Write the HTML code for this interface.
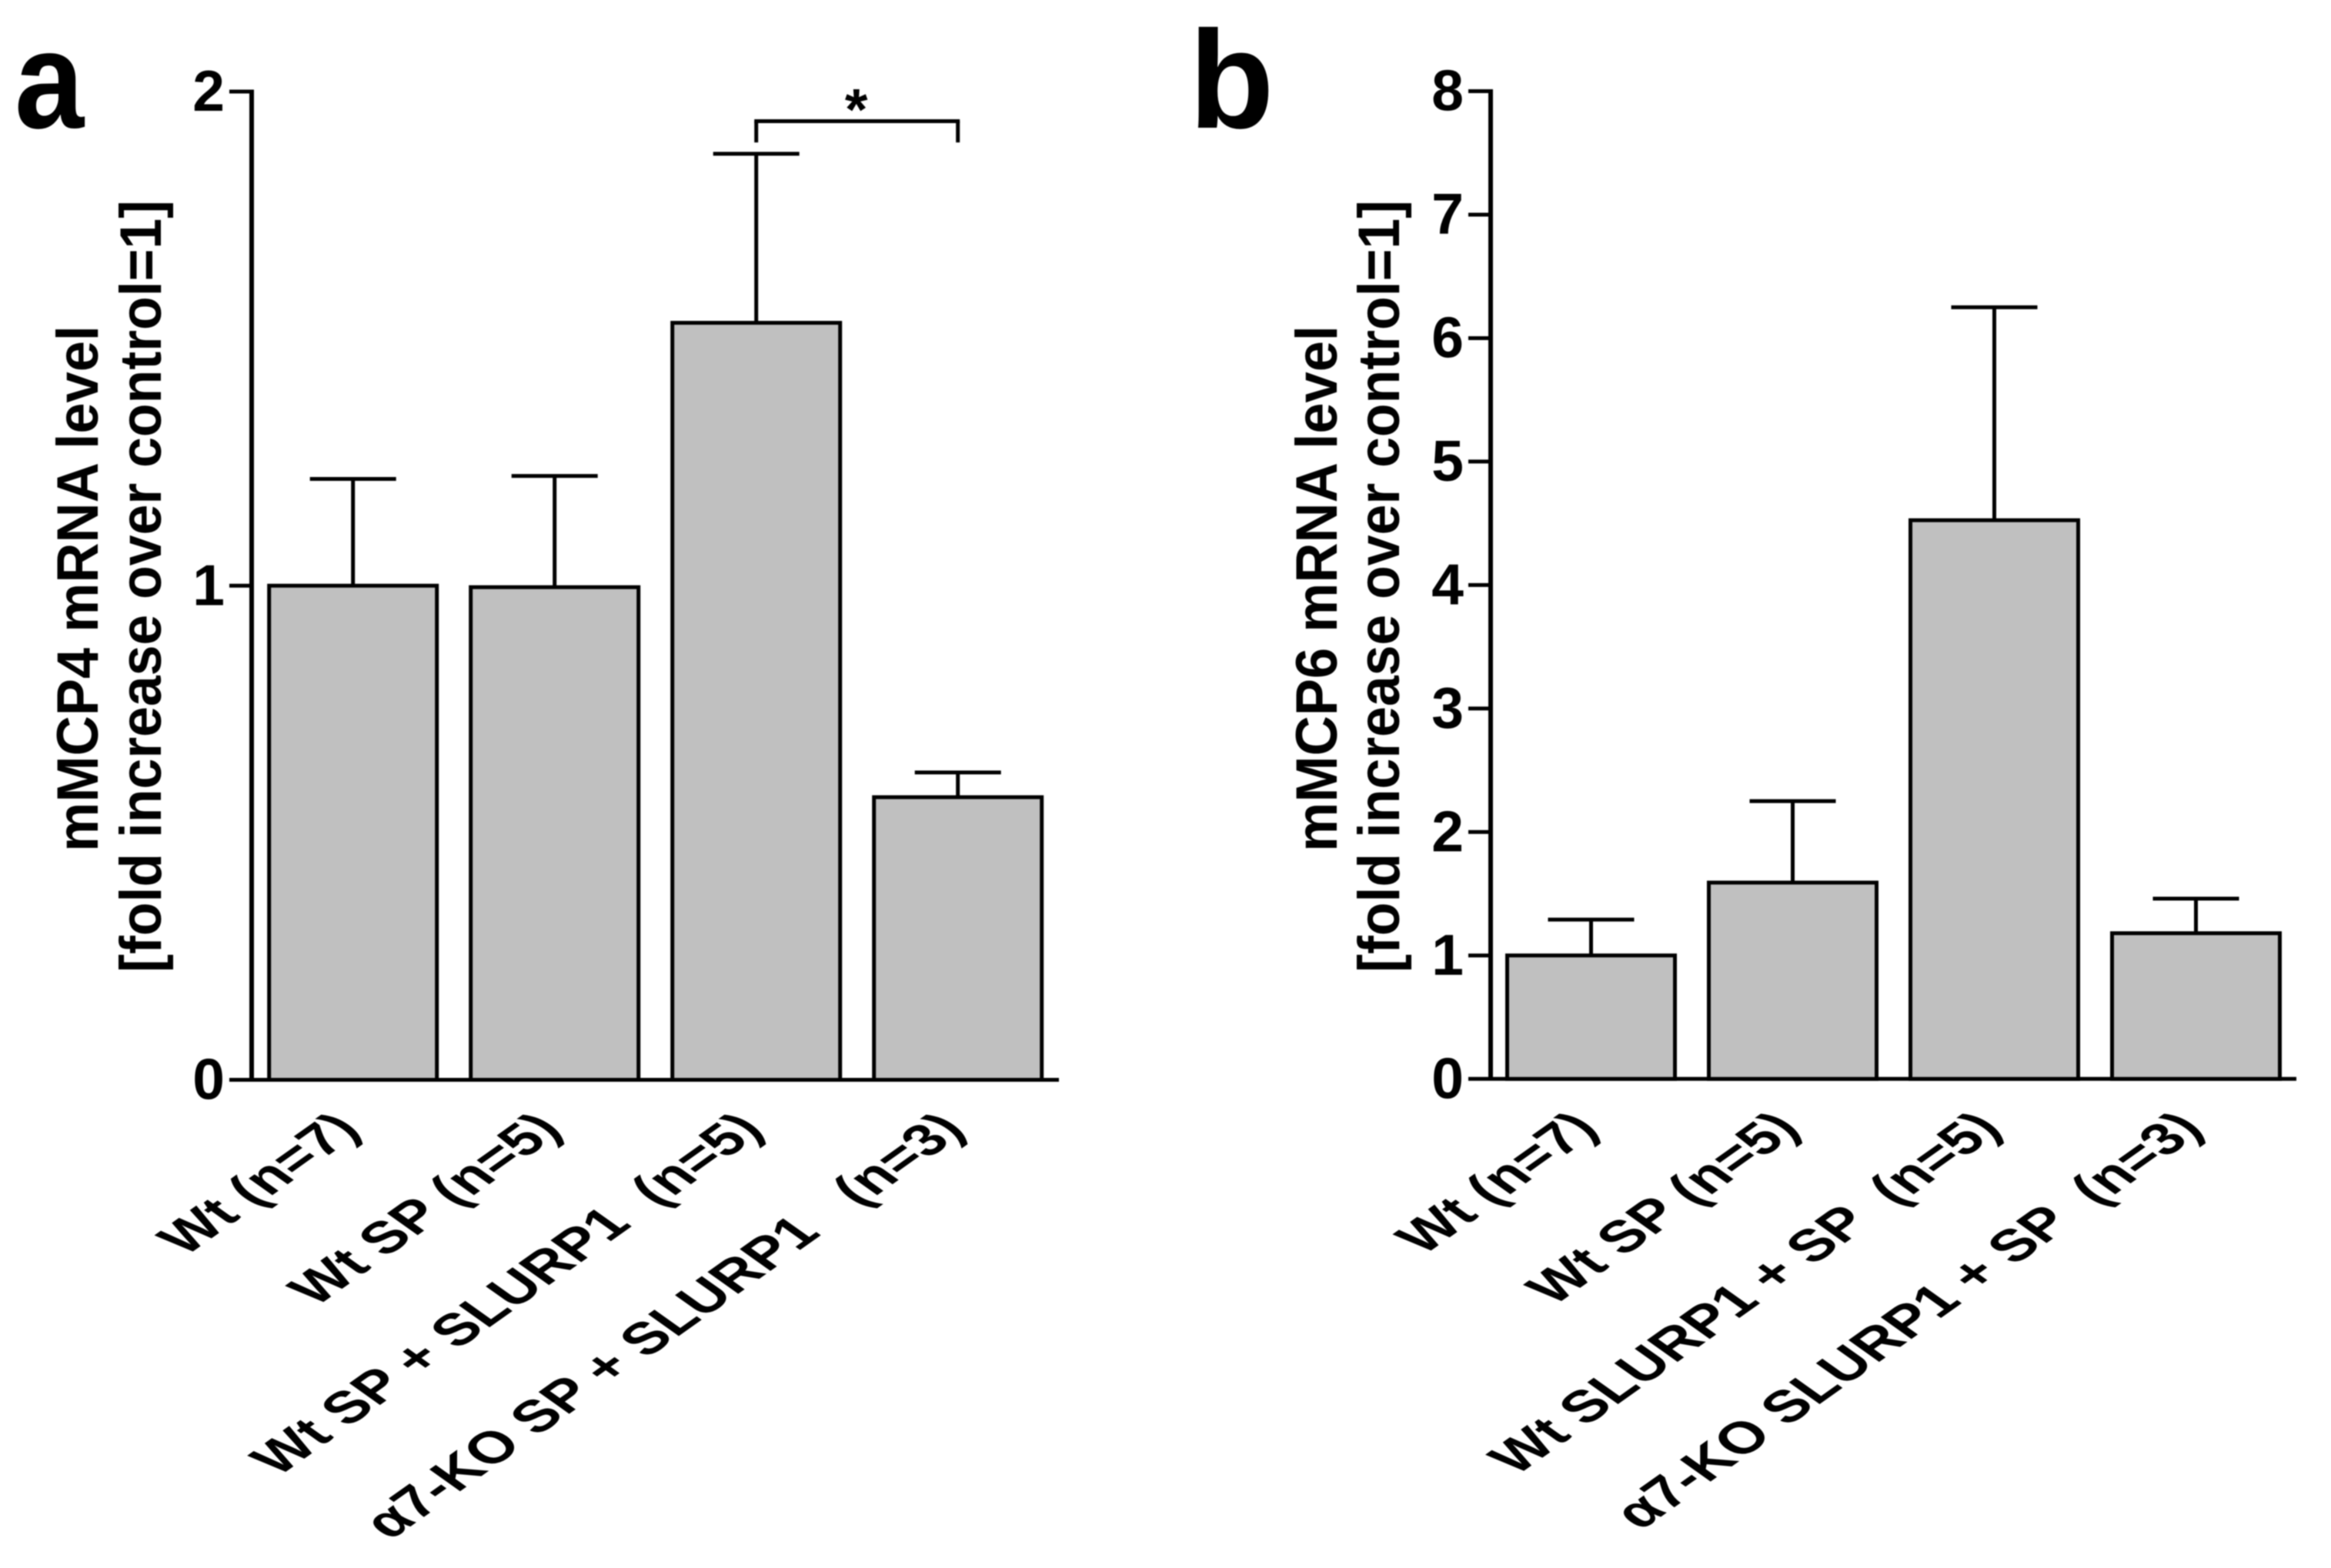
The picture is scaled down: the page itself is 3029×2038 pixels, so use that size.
<!DOCTYPE html>
<html lang="en">
<head>
<meta charset="utf-8">
<title>mMCP4 and mMCP6 mRNA levels</title>
<style>
html,body{margin:0;padding:0;background:#fff;}
svg{display:block;filter:blur(0.7px);}
text{font-family:"Liberation Sans",Arial,sans-serif;font-weight:bold;fill:#000;}
</style>
</head>
<body>
<svg id="figure" xmlns="http://www.w3.org/2000/svg" width="3029" height="2038" viewBox="0 0 3029 2038">
  <rect x="0" y="0" width="3029" height="2038" fill="#ffffff"/>
  <text transform="translate(19,166) scale(0.9,1)" font-size="180">a</text>
  <text x="1545" y="166" font-size="181">b</text>
  <text transform="translate(127,765) rotate(-90)" text-anchor="middle" font-size="76" textLength="684" lengthAdjust="spacingAndGlyphs">mMCP4 mRNA level</text>
  <text transform="translate(209,762) rotate(-90)" text-anchor="middle" font-size="76" textLength="1004" lengthAdjust="spacingAndGlyphs">[fold increase over control=1]</text>
  <text transform="translate(1737,765) rotate(-90)" text-anchor="middle" font-size="76" textLength="684" lengthAdjust="spacingAndGlyphs">mMCP6 mRNA level</text>
  <text transform="translate(1818,762) rotate(-90)" text-anchor="middle" font-size="76" textLength="1004" lengthAdjust="spacingAndGlyphs">[fold increase over control=1]</text>
  <g id="panel-a"></g>
  <g id="panel-b"></g>
</svg>
<script>
const aCategories = ['Wt (n=7)', 'Wt SP (n=5)', 'Wt SP + SLURP1  (n=5)', 'α7-KO SP + SLURP1   (n=3)'];
const aMeans = [1.0, 0.997, 1.532, 0.572];
const aErrors = [0.216, 0.225, 0.342, 0.05];
const aTicks = [0, 1, 2];
const aTickLabels = ['0', '1', '2'];
const aBracketBars = [2, 3];
const aBracketLevels = [1.897, 1.94, 1.897];
const aBracketLabel = '*';

const bCategories = ['Wt (n=7)', 'Wt SP (n=5)', 'Wt SLURP1 + SP  (n=5)', 'α7-KO SLURP1 + SP  (n=3)'];
const bMeans = [1.0, 1.59, 4.525, 1.18];
const bErrors = [0.29, 0.66, 1.725, 0.28];
const bTicks = [0, 1, 2, 3, 4, 5, 6, 7, 8];
const bTickLabels = ['0', '1', '2', '3', '4', '5', '6', '7', '8'];

const NS = 'http://www.w3.org/2000/svg';

function line(parent, x1, y1, x2, y2, width) {
  const el = document.createElementNS(NS, 'line');
  el.setAttribute('x1', x1);
  el.setAttribute('y1', y1);
  el.setAttribute('x2', x2);
  el.setAttribute('y2', y2);
  el.setAttribute('stroke', '#000');
  el.setAttribute('stroke-width', width);
  parent.appendChild(el);
  return el;
}

function drawPanel(parent, prefix, layout, categories, means, errors, ticks, tickLabels) {
  const y = v => layout.y0 - (v / layout.yMax) * (layout.y0 - layout.yTop);
  const x = i => layout.x0 + layout.step * i;

  const yAxis = line(parent, layout.axisX, layout.yTop - 2.5, layout.axisX, layout.y0, 6);
  
  

  const xAxis = line(parent, layout.axisX - 29, layout.y0, layout.xEnd, layout.y0, 5);
  
  

  ticks.forEach((t, i) => {
    if (t !== 0) {
      const tick = line(parent, layout.axisX - 29, y(t), layout.axisX, y(t), 5);
      
      
    }
    const label = document.createElementNS(NS, 'text');
    
    
    label.setAttribute('x', layout.axisX - 35);
    label.setAttribute('y', y(t) + 25);
    label.setAttribute('text-anchor', 'end');
    label.setAttribute('font-size', '75');
    label.textContent = tickLabels[i];
    parent.appendChild(label);
  });

  categories.forEach((name, i) => {
    const cx = x(i);
    const top = y(means[i]);
    const errTop = y(means[i] + errors[i]);

    const stem = line(parent, cx, top, cx, errTop, 5);
    
    

    const cap = line(parent, cx - 56, errTop, cx + 56, errTop, 5);
    
    

    const bar = document.createElementNS(NS, 'rect');
    
    
    bar.setAttribute('x', cx - layout.barW / 2);
    bar.setAttribute('y', top);
    bar.setAttribute('width', layout.barW);
    bar.setAttribute('height', layout.y0 - top);
    bar.setAttribute('fill', '#c0c0c0');
    bar.setAttribute('stroke', '#000');
    bar.setAttribute('stroke-width', '5');
    parent.appendChild(bar);

    const cat = document.createElementNS(NS, 'text');
    
    
    cat.setAttribute('transform', 'translate(' + (cx + 12) + ',' + (layout.y0 + 67) + ') scale(1,0.71) rotate(-45)');
    cat.setAttribute('text-anchor', 'end');
    cat.setAttribute('font-size', '82');
    cat.setAttribute('xml:space', 'preserve');
    cat.style.whiteSpace = 'pre';
    cat.textContent = name;
    parent.appendChild(cat);
  });

  return { x, y };
}

const scalesA = drawPanel(document.getElementById('panel-a'), 'panel-a',
  { axisX: 327, yTop: 119, y0: 1403.5, yMax: 2, xEnd: 1376, x0: 458.7, step: 262, barW: 218 },
  aCategories, aMeans, aErrors, aTicks, aTickLabels);

drawPanel(document.getElementById('panel-b'), 'panel-b',
  { axisX: 1937, yTop: 118.5, y0: 1402.3, yMax: 8, xEnd: 2984, x0: 2067.5, step: 262, barW: 218 },
  bCategories, bMeans, bErrors, bTicks, bTickLabels);

const panelA = document.getElementById('panel-a');
const bx1 = scalesA.x(aBracketBars[0]);
const bx2 = scalesA.x(aBracketBars[1]);

const bracketLeft = line(panelA, bx1, scalesA.y(aBracketLevels[0]), bx1, scalesA.y(aBracketLevels[1]), 5);



const bracketTop = line(panelA, bx1 - 2.5, scalesA.y(aBracketLevels[1]), bx2 + 2.5, scalesA.y(aBracketLevels[1]), 5);



const bracketRight = line(panelA, bx2, scalesA.y(aBracketLevels[1]), bx2, scalesA.y(aBracketLevels[2]), 5);



const star = document.createElementNS(NS, 'text');


star.setAttribute('x', (bx1 + bx2) / 2 - 1);
star.setAttribute('y', scalesA.y(aBracketLevels[1]) + 11);
star.setAttribute('text-anchor', 'middle');
star.setAttribute('font-size', '76');
star.textContent = aBracketLabel;
panelA.appendChild(star);
</script>
</body>
</html>
